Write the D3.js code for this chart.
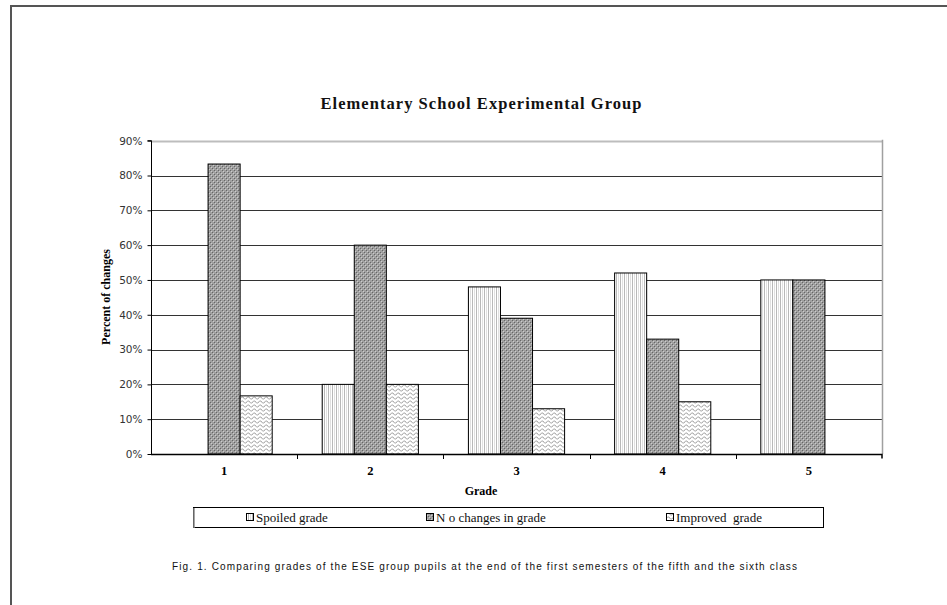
<!DOCTYPE html>
<html>
<head>
<meta charset="utf-8">
<script src="https://cdn.jsdelivr.net/npm/d3@7"></script>
<style>
  html, body { margin: 0; padding: 0; background: #fff; }
  svg { display: block; }
</style>
</head>
<body>
<svg id="chart" width="947" height="605"></svg>
<script>
// ---- data ----
const categories = ["1", "2", "3", "4", "5"];
const seriesNames = ["Spoiled grade", "N o changes in grade", "Improved  grade"];
const spoiled   = [0, 0.20, 0.48, 0.52, 0.50];
const noChange  = [0.833, 0.60, 0.39, 0.33, 0.50];
const improved  = [0.167, 0.20, 0.13, 0.15, 0];
const yTicks = [0, 0.1, 0.2, 0.3, 0.4, 0.5, 0.6, 0.7, 0.8, 0.9];
const titleText = "Elementary School Experimental Group";
const xTitle = "Grade";
const yTitle = "Percent of changes";
const caption = "Fig. 1. Comparing grades of the ESE group pupils at the end of the first semesters of the fifth and the sixth class";

const seriesValues = [spoiled, noChange, improved];

const svg = d3.select("#chart");

// ---- patterns ----
const defs = svg.append("defs");
const pV = defs.append("pattern").attr("id", "pat0").attr("patternUnits", "userSpaceOnUse")
  .attr("width", 4).attr("height", 4);
pV.append("rect").attr("width", 4).attr("height", 4).attr("fill", "#fff");
pV.append("rect").attr("x", 0).attr("width", 1).attr("height", 4).attr("fill", "#b8b8b8");
pV.append("rect").attr("x", 2).attr("width", 1).attr("height", 4).attr("fill", "#e0e0e0");
const pD = defs.append("pattern").attr("id", "pat1").attr("patternUnits", "userSpaceOnUse")
  .attr("width", 4).attr("height", 4);
pD.append("rect").attr("width", 4).attr("height", 4).attr("fill", "#a0a0a0");
pD.append("rect").attr("x", 0).attr("y", 0).attr("width", 1).attr("height", 1).attr("fill", "#666");
pD.append("rect").attr("x", 2).attr("y", 2).attr("width", 1).attr("height", 1).attr("fill", "#666");
pD.append("rect").attr("x", 1).attr("y", 1).attr("width", 1).attr("height", 1).attr("fill", "#ccc");
pD.append("rect").attr("x", 3).attr("y", 3).attr("width", 1).attr("height", 1).attr("fill", "#ccc");
const pW = defs.append("pattern").attr("id", "pat2").attr("patternUnits", "userSpaceOnUse")
  .attr("width", 6).attr("height", 4);
pW.append("rect").attr("width", 6).attr("height", 4).attr("fill", "#fff");
pW.append("path").attr("d", "M0,3 L1.5,1 L3,1 L4.5,3 L6,3").attr("fill", "none")
  .attr("stroke", "#a8a8a8").attr("stroke-width", 1);

// ---- page frame ----
svg.append("line").attr("x1", 10).attr("x2", 947).attr("y1", 6).attr("y2", 6)
  .attr("stroke", "#555").attr("stroke-width", 2);
svg.append("line").attr("x1", 11).attr("x2", 11).attr("y1", 5).attr("y2", 605)
  .attr("stroke", "#555").attr("stroke-width", 2);

// ---- scales ----
const plotL = 151, plotR = 882, plotT = 140.7, plotB = 454;
const x = d3.scaleBand().domain(categories).range([plotL, plotR]).paddingInner(0).paddingOuter(0);
const xs = d3.scaleBand().domain(d3.range(seriesNames.length)).range([0, x.bandwidth()])
  .paddingInner(0).paddingOuter(0.78);
const y = d3.scaleLinear().domain([0, 0.9]).range([plotB, plotT]);

// ---- grid ----
svg.append("g").selectAll("line").data(yTicks.filter(d => d > 0)).join("line")
  .attr("x1", plotL).attr("x2", plotR)
  .attr("y1", d => Math.round(y(d)) + 0.5).attr("y2", d => Math.round(y(d)) + 0.5)
  .attr("stroke", d => d >= 0.9 ? "#bdbdbd" : "#333").attr("stroke-width", d => d >= 0.9 ? 2 : 1);
svg.append("line").attr("x1", plotR + 0.5).attr("x2", plotR + 0.5).attr("y1", plotT - 1).attr("y2", plotB)
  .attr("stroke", "#a0a0a0").attr("stroke-width", 1.5);

// ---- bars ----
const barsG = svg.append("g");
seriesValues.forEach((vals, si) => {
  barsG.append("g").selectAll("rect").data(vals.map((v, i) => ({ v, c: categories[i] })))
    .join("rect")
    .filter(d => d.v > 0)
    .attr("x", d => x(d.c) + xs(si))
    .attr("y", d => y(d.v))
    .attr("width", xs.bandwidth())
    .attr("height", d => plotB - y(d.v))
    .attr("fill", `url(#pat${si})`)
    .attr("stroke", "#000").attr("stroke-width", 1);
});

// ---- axes ----
const yAxis = d3.axisLeft(y).tickValues(yTicks).tickFormat(d3.format(".0%")).tickSize(4).tickPadding(5);
const gy = svg.append("g").attr("transform", `translate(${plotL + 0.5},0)`).call(yAxis);
gy.select(".domain").attr("stroke", "#000").attr("d", `M-4,${plotT}H0V${plotB}`);
gy.selectAll(".tick line").attr("stroke", "#000");
gy.selectAll("text").attr("font-family", "Verdana, 'DejaVu Sans', sans-serif")
  .attr("font-size", 10.5).attr("fill", "#333");

const xAxis = d3.axisBottom(x).tickSize(0).tickPadding(12);
const gx = svg.append("g").attr("transform", `translate(0,${plotB + 0.5})`).call(xAxis);
gx.select(".domain").attr("stroke", "#000").attr("stroke-width", 1.5).attr("d", `M${plotL},0H${plotR}V4`);
gx.selectAll("text").attr("font-family", "'Liberation Serif', 'Times New Roman', serif")
  .attr("font-weight", "bold").attr("font-size", 12.5).attr("fill", "#000");
svg.append("g").selectAll("line").data(categories.slice(1)).join("line")
  .attr("x1", d => Math.round(x(d)) + 0.5).attr("x2", d => Math.round(x(d)) + 0.5)
  .attr("y1", plotB).attr("y2", plotB + 5).attr("stroke", "#000");

// ---- titles ----
svg.append("text").attr("x", 481).attr("y", 109).attr("text-anchor", "middle")
  .attr("font-family", "'Liberation Serif', 'Times New Roman', serif")
  .attr("font-size", 16.5).attr("font-weight", "bold").attr("fill", "#111")
  .attr("textLength", 321).attr("lengthAdjust", "spacing")
  .text(titleText);

svg.append("text").attr("x", 481).attr("y", 495).attr("text-anchor", "middle")
  .attr("font-family", "'Liberation Serif', 'Times New Roman', serif")
  .attr("font-size", 12).attr("font-weight", "bold").attr("fill", "#000")
  .text(xTitle);

svg.append("text").attr("transform", "translate(110,297) rotate(-90)").attr("text-anchor", "middle")
  .attr("font-family", "'Liberation Serif', 'Times New Roman', serif")
  .attr("font-size", 12).attr("font-weight", "bold").attr("fill", "#000")
  .text(yTitle);

// ---- legend ----
const lg = svg.append("g");
lg.append("rect").attr("x", 193.5).attr("y", 507.5).attr("width", 630).attr("height", 20)
  .attr("fill", "#fff").attr("stroke", "#000").attr("stroke-width", 1);
lg.append("line").attr("x1", 194).attr("x2", 194).attr("y1", 508).attr("y2", 528).attr("stroke", "#888").attr("stroke-width", 1.5);
const legendX = [246, 426, 666];
seriesNames.forEach((name, i) => {
  lg.append("rect").attr("x", legendX[i] + 0.5).attr("y", 513.5).attr("width", 7).attr("height", 7)
    .attr("fill", `url(#pat${i})`).attr("stroke", "#000").attr("stroke-width", 1);
  lg.append("text").attr("x", legendX[i] + 10).attr("y", 522)
    .attr("font-family", "'Liberation Serif', 'Times New Roman', serif")
    .attr("font-size", 13).attr("fill", "#111").attr("xml:space", "preserve")
    .style("white-space", "pre")
    .text(name);
});

// ---- caption ----
svg.append("text").attr("x", 172).attr("y", 570)
  .attr("font-family", "Arial, 'Liberation Sans', sans-serif")
  .attr("font-size", 10).attr("fill", "#111")
  .attr("textLength", 625).attr("lengthAdjust", "spacing")
  .text(caption);
</script>
</body>
</html>
